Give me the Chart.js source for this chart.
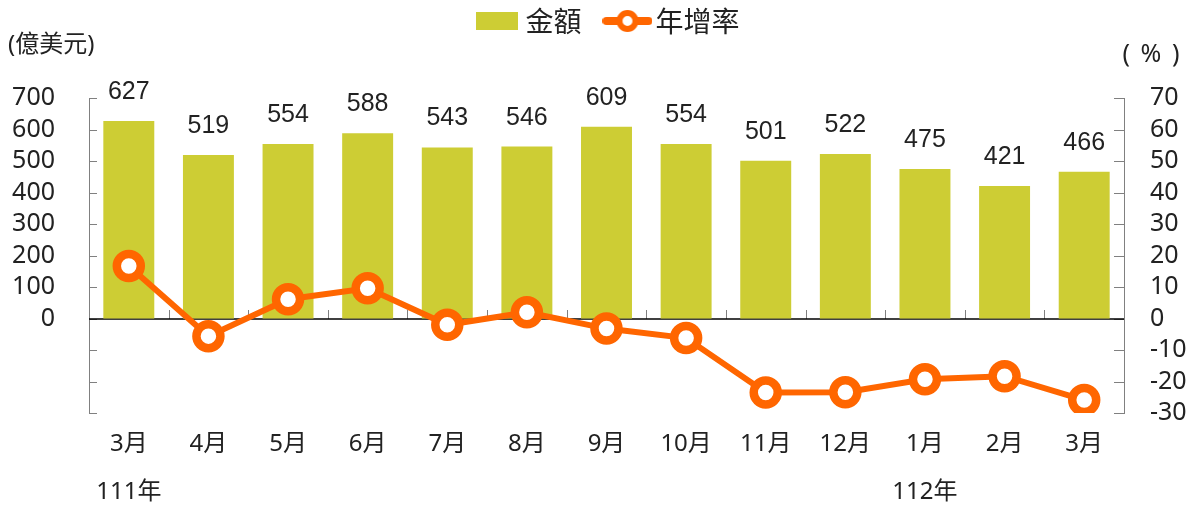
<!DOCTYPE html>
<html><head><meta charset="utf-8">
<script src="https://cdn.jsdelivr.net/npm/chart.js@4/dist/chart.umd.min.js"></script>
<style>html,body{margin:0;padding:0;background:#fff;}</style>
</head><body>
<canvas id="c" width="1197" height="509"></canvas>
<script>
const months = ['3月','4月','5月','6月','7月','8月','9月','10月','11月','12月','1月','2月','3月'];
const years = ['111年','','','','','','','','','','112年','',''];
const amounts = [627,519,554,588,543,546,609,554,501,522,475,421,466];
const growth = [16.7,-5.6,6.1,9.6,-2.0,2.0,-3.2,-6.2,-23.5,-23.4,-19.3,-18.3,-25.9];
const seriesNames = ['金額','年增率'];
const leftUnit = '(億美元)';
const rightUnit = '( % )';

const BAR = '#CDCD34', LINE = '#FF6600', TXT = '#222222', AX = '#808080';
const NUMFONT = '"Noto Sans","Noto Sans CJK TC",sans-serif';
const CJK = '"Noto Sans CJK TC","Noto Sans",sans-serif';

const barIcon = document.createElement('canvas');
barIcon.width = 42; barIcon.height = 18;
(function(){const g=barIcon.getContext('2d');g.fillStyle=BAR;g.fillRect(0,0,42,18);})();
const lineIcon = document.createElement('canvas');
lineIcon.width = 50; lineIcon.height = 26;
(function(){const g=lineIcon.getContext('2d');g.strokeStyle=LINE;g.lineWidth=8;g.lineCap='round';
g.beginPath();g.moveTo(4,13);g.lineTo(46,13);g.stroke();
g.beginPath();g.arc(25,13,8,0,Math.PI*2);g.fillStyle='#fff';g.fill();g.lineWidth=6;g.stroke();})();

const decor = {
  id:'decor',
  beforeDatasetsDraw(chart){
    const {ctx, chartArea:a, scales:{x, y, y1}} = chart;
    ctx.save();
    ctx.strokeStyle = AX; ctx.lineWidth = 1;
    ctx.beginPath();
    y.ticks.forEach(t=>{const py=Math.round(y.getPixelForValue(t.value))+0.5; ctx.moveTo(a.left,py); ctx.lineTo(a.left+8,py);});
    y1.ticks.forEach(t=>{const py=Math.round(y1.getPixelForValue(t.value))+0.5; ctx.moveTo(a.right-10,py); ctx.lineTo(a.right,py);});
    const y0 = Math.round(y.getPixelForValue(0));
    for(let i=1;i<months.length;i++){
      const px = Math.round((x.getPixelForValue(i-1)+x.getPixelForValue(i))/2)+0.5;
      ctx.moveTo(px,y0); ctx.lineTo(px,y0-9);
    }
    ctx.stroke();
    ctx.strokeStyle = '#000'; ctx.lineWidth = 1.4;
    ctx.beginPath(); ctx.moveTo(a.left,y0); ctx.lineTo(a.right,y0); ctx.stroke();
    ctx.restore();
  },
  afterDraw(chart){
    const {ctx} = chart;
    ctx.save();
    const meta = chart.getDatasetMeta(0);
    ctx.fillStyle = TXT; ctx.textAlign='center'; ctx.textBaseline='alphabetic';
    ctx.font = '25px "Liberation Sans",Arial,sans-serif';
    meta.data.forEach((el,i)=>{ ctx.fillText(String(amounts[i]), el.x, el.y-22); });
    ctx.font = '25px ' + NUMFONT; ctx.textBaseline='middle';
    try { ctx.letterSpacing = '2px'; } catch(e) {}
    ctx.fillText(rightUnit, 1152, 55);
    ctx.restore();
  }
};

new Chart(document.getElementById('c'), {
  data: {
    labels: months.map((m,i)=>[m, years[i]]),
    datasets: [
      {type:'bar', label:seriesNames[0], data:amounts, yAxisID:'y', backgroundColor:BAR, barPercentage:0.64, categoryPercentage:1.0, order:1},
      {type:'line', label:seriesNames[1], data:growth, yAxisID:'y1', borderColor:LINE, borderWidth:6, tension:0,
       pointRadius:12, pointHoverRadius:12, pointBorderWidth:8.5, pointBackgroundColor:'#fff', pointBorderColor:LINE, order:0}
    ]
  },
  options: {
    responsive:false, animation:false, devicePixelRatio:1,
    layout:{padding:{top:-25, left:8, right:-18, bottom:0}},
    plugins:{
      tooltip:{enabled:false},
      legend:{
        position:'top', align:'center', fullSize:true,
        labels:{
          usePointStyle:true, pointStyleWidth:28, padding:32, color:TXT,
          font:{size:28, family:CJK},
          sort:(a,b)=>a.datasetIndex-b.datasetIndex,
          generateLabels(chart){
            const items = Chart.defaults.plugins.legend.labels.generateLabels(chart);
            items.forEach(it=>{ it.pointStyle = it.datasetIndex===0 ? barIcon : lineIcon; });
            return items;
          }
        }
      },
      title:{
        display:true, text:leftUnit, align:'start', position:'top', weight:500, fullSize:true,
        color:TXT, font:{size:24, family:NUMFONT, weight:'normal', lineHeight:1.2},
        padding:{top:-14.4, bottom:38.6}
      }
    },
    scales:{
      x:{
        type:'category', offset:true,
        grid:{display:false, drawTicks:false}, border:{display:false},
        ticks:{autoSkip:false, maxRotation:0, padding:7, color:TXT, font:{size:24, family:NUMFONT, lineHeight:2}},
        afterFit(s){ s.height = 96; }
      },
      y:{
        position:'left', min:-300, max:700,
        grid:{display:false, drawTicks:false}, border:{display:true, color:AX, width:1},
        ticks:{stepSize:100, autoSkip:false, padding:34, color:TXT, font:{size:25, family:NUMFONT}, callback:v=> v>=0 ? String(v) : ''},
        afterFit(s){ s.width = 81; }
      },
      y1:{
        position:'right', min:-30, max:70,
        grid:{display:false, drawTicks:false}, border:{display:true, color:AX, width:1},
        ticks:{stepSize:10, autoSkip:false, padding:26, color:TXT, font:{size:25, family:NUMFONT}},
        afterFit(s){ s.width = 91; }
      }
    }
  },
  plugins:[decor]
});
</script>
</body></html>
